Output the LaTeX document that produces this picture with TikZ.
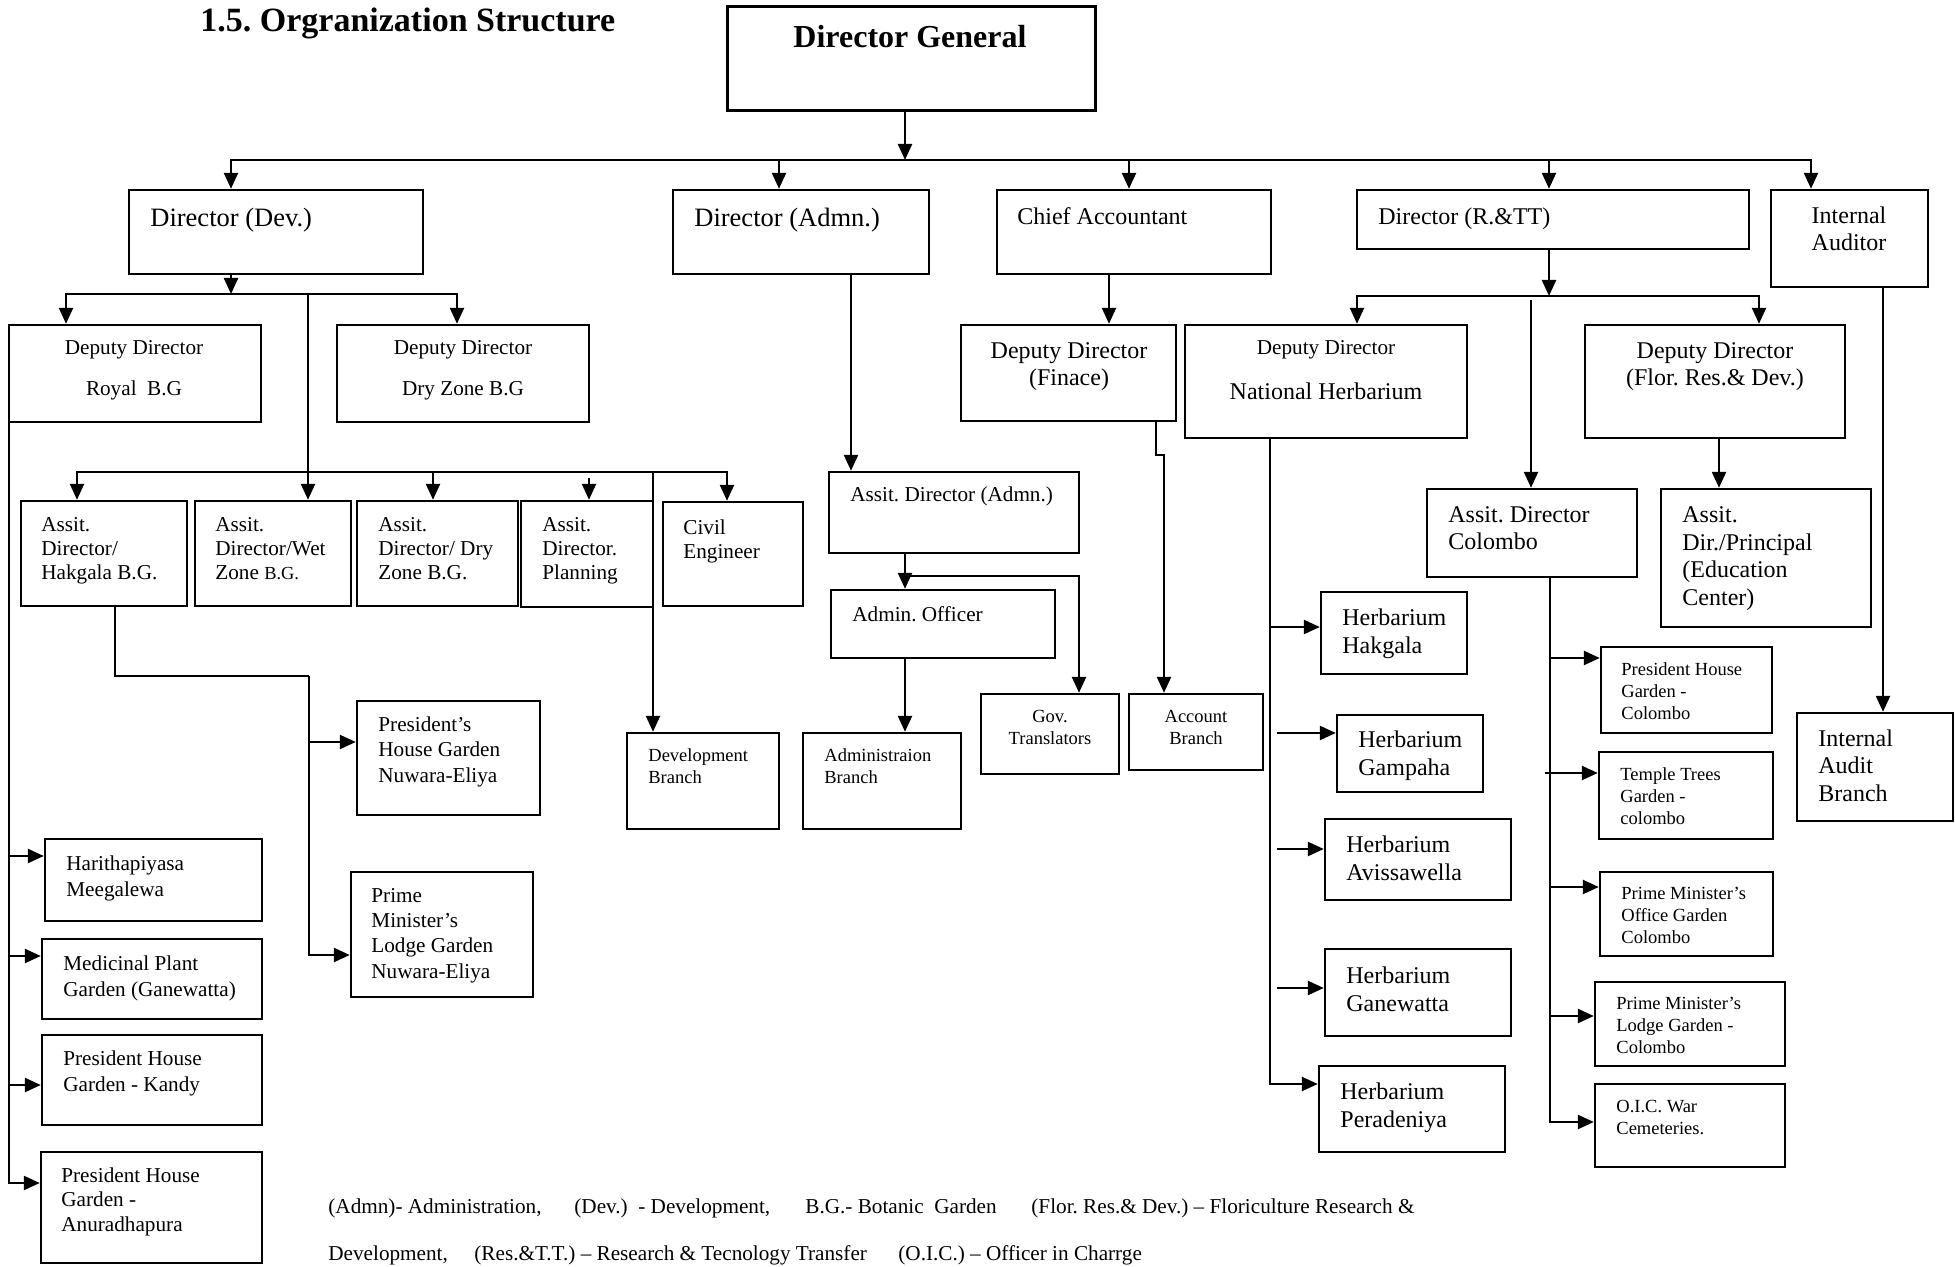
\documentclass[tikz,border=0pt]{standalone}
\usepackage{fontspec}
\setmainfont{Liberation Serif}
\usetikzlibrary{arrows.meta,fit}
\frenchspacing
\newcommand\fTi{\fontsize{17}{20}\selectfont\bfseries}
\newcommand\fDG{\fontsize{16}{19}\selectfont\bfseries}
\newcommand\fB{\fontsize{13.25}{16}\selectfont}
\newcommand\fM{\fontsize{12}{13.75}\selectfont}
\newcommand\fN{\fontsize{10.6}{12.25}\selectfont}
\newcommand\fNw{\fontsize{10.6}{12.6}\selectfont}
\newcommand\fS{\fontsize{9.25}{10.9}\selectfont}
\newcommand\bx[5]{\node[box,fit={(#2,#3) (#4,#5)}] (#1) {};}
\begin{document}
\begin{tikzpicture}[x=0.5pt,y=-0.5pt,
  box/.style={draw,line width=1.2pt,inner sep=0pt},
  ln/.style={line width=1.2pt},
  arr/.style={line width=1.2pt,-{Triangle[length=8pt,width=7pt]}},
  tl/.style={inner sep=0pt,anchor=base west,align=left},
  tc/.style={inner sep=0pt,anchor=base,align=center}]
\frenchspacing
\fill[white] (0,0) rectangle (1955,1267);
\useasboundingbox (0,0) rectangle (1955,1267);

% ---------- boxes ----------
\node[draw,line width=1.5pt,inner sep=0pt,fit={(727,7) (1095,111)}] (dg) {};
\bx{ddev}{129}{190}{423}{274}
\bx{dadm}{673}{190}{929}{274}
\bx{ca}{997}{190}{1271}{274}
\bx{drtt}{1357}{190}{1749}{249}
\bx{ia}{1771}{190}{1928}{287}
\bx{ddr}{9}{325}{261}{422}
\bx{ddz}{337}{325}{589}{422}
\bx{ddf}{961}{325}{1176}{421}
\bx{ddnh}{1185}{325}{1467}{438}
\bx{ddfl}{1585}{325}{1845}{438}
\bx{ahk}{21}{501}{187}{606}
\bx{awz}{195}{501}{351}{606}
\bx{adz}{357}{501}{518}{606}
\bx{apl}{521}{501}{653}{607}
\bx{ce}{663}{502}{803}{606}
\bx{aad}{829}{472}{1079}{553}
\bx{ao}{831}{590}{1055}{658}
\bx{dvb}{627}{733}{779}{829}
\bx{adb}{803}{733}{961}{829}
\bx{gt}{981}{694}{1119}{774}
\bx{ab}{1129}{694}{1263}{770}
\bx{adc}{1427}{489}{1637}{577}
\bx{adp}{1661}{489}{1871}{627}
\bx{hha}{1321}{592}{1467}{674}
\bx{hga}{1337}{715}{1483}{792}
\bx{hav}{1325}{819}{1511}{900}
\bx{hgn}{1325}{949}{1511}{1036}
\bx{hpe}{1319}{1066}{1505}{1152}
\bx{phc}{1601}{647}{1772}{733}
\bx{ttg}{1599}{752}{1773}{839}
\bx{pmo}{1600}{872}{1773}{956}
\bx{pml}{1595}{982}{1785}{1066}
\bx{oic}{1595}{1084}{1785}{1167}
\bx{iab}{1797}{713}{1953}{821}
\bx{phn}{357}{701}{540}{815}
\bx{pmn}{351}{872}{533}{997}
\bx{har}{45}{839}{262}{921}
\bx{mpg}{42}{939}{262}{1019}
\bx{phk}{42}{1035}{262}{1125}
\bx{pha}{41}{1152}{262}{1263}

% ---------- connectors ----------
\coordinate (b1) at (905,160);
\draw[arr] (905,0 |- dg.south) -- (b1);
\draw[arr] (b1) -| (231,0 |- ddev.north);
\draw[arr] (b1) -| (1811,0 |- ia.north);
\draw[arr] (779,0 |- b1) -- (779,0 |- dadm.north);
\draw[arr] (1129,0 |- b1) -- (1129,0 |- ca.north);
\draw[arr] (1549,0 |- b1) -- (1549,0 |- drtt.north);

\coordinate (b2) at (231,294);
\draw[arr] (231,0 |- ddev.south) -- (b2);
\draw[arr] (b2) -| (66,0 |- ddr.north);
\draw[arr] (b2) -| (457,0 |- ddz.north);
\draw[arr] (308,0 |- b2) -- (308,0 |- awz.north);
\coordinate (b3) at (308,472);
\draw[arr] (b3) -| (77,0 |- ahk.north);
\draw[arr] (b3) -| (727,0 |- ce.north);
\draw[arr] (433,0 |- b3) -- (433,0 |- adz.north);
\coordinate (pl) at (589,478);
\draw[arr] (pl) -- (589,0 |- apl.north);
\draw[arr] (653,0 |- b3) -- (653,0 |- dvb.north);

\draw[arr] (851,0 |- dadm.south) -- (851,0 |- aad.north);
\draw[arr] (905,0 |- aad.south) -- (905,0 |- ao.north);
\coordinate (b5) at (905,576);
\draw[arr] (b5) -| (1079,0 |- gt.north);
\draw[arr] (905,0 |- ao.south) -- (905,0 |- adb.north);

\draw[arr] (1109,0 |- ca.south) -- (1109,0 |- ddf.north);
\draw[arr] (1156,0 |- ddf.south) -- (1156,455) -- (1164,455) -- (1164,0 |- ab.north);

\coordinate (b4) at (1549,296);
\draw[arr] (1549,0 |- drtt.south) -- (b4);
\draw[arr] (b4) -| (1357,0 |- ddnh.north);
\draw[arr] (b4) -| (1759,0 |- ddfl.north);
\coordinate (b6) at (1531,300);
\draw[arr] (b6) -- (1531,0 |- adc.north);
\draw[arr] (1719,0 |- ddfl.south) -- (1719,0 |- adp.north);
\draw[arr] (1883,0 |- ia.south) -- (1883,0 |- iab.north);

\draw[arr] (1270,0 |- ddnh.south) |- (hpe.west |- 0,1084);
\draw[arr] (1270,627) -- (hha.west |- 0,627);
\draw[arr] (1277,733) -- (hga.west |- 0,733);
\draw[arr] (1277,849) -- (hav.west |- 0,849);
\draw[arr] (1277,988) -- (hgn.west |- 0,988);

\draw[arr] (1550,0 |- adc.south) |- (oic.west |- 0,1122);
\draw[arr] (1550,658) -- (phc.west |- 0,658);
\draw[arr] (1545,773) -- (ttg.west |- 0,773);
\draw[arr] (1550,887) -- (pmo.west |- 0,887);
\draw[arr] (1550,1016) -- (pml.west |- 0,1016);

\draw[arr] (9,0 |- ddr.south) |- (pha.west |- 0,1183);
\draw[arr] (9,856) -- (har.west |- 0,856);
\draw[arr] (9,956) -- (mpg.west |- 0,956);
\draw[arr] (9,1085) -- (phk.west |- 0,1085);

\draw[ln] (115,0 |- ahk.south) -- (115,676) -- (309,676);
\draw[arr] (309,676) |- (pmn.west |- 0,955);
\draw[arr] (309,742) -- (phn.west |- 0,742);

% ---------- texts (anchored at the baseline of the last line) ----------
\node[tl,font=\fTi] (title) at (200,32) {1.5. Orgranization Structure};
\node[tc,font=\fDG] (tdg) at (910,48) {Director General};
\node[tl,font=\fB] (tddev) at (150,227) {Director (Dev.)};
\node[tl,font=\fB] (tdadm) at (694,227) {Director (Admn.)};
\node[tl,font=\fM] (tca) at (1017,225) {Chief Accountant};
\node[tl,font=\fM] (tdrtt) at (1378,225) {Director (R.\&TT)};
\node[tc,font=\fM] (tia) at (1849,251) {Internal\\Auditor};
\node[tc,font=\fN] (tddr) at (134,396) {Deputy Director\\[8.3pt]Royal\ \ B.G};
\node[tc,font=\fN] (tddz) at (463,396) {Deputy Director\\[8.3pt]Dry Zone B.G};
\node[tc,font=\fM] (tddf) at (1069,386) {Deputy Director\\(Finace)};
\node[tc,font=\fN] (tddnh1) at (1326,355) {Deputy Director};
\node[tc,font=\fM] (tddnh2) at (1326,400) {National Herbarium};
\node[tc,font=\fM] (tddfl) at (1715,386) {Deputy Director\\(Flor. Res.\& Dev.)};
\node[tl,font=\fN] (tahk) at (41,580) {Assit.\\Director/\\Hakgala B.G.};
\node[tl,font=\fN] (tawz) at (215,580) {Assit.\\Director/Wet\\Zone {\fontsize{9.2}{12}\selectfont B.G.}};
\node[tl,font=\fN] (tadz) at (378,580) {Assit.\\Director/ Dry\\Zone B.G.};
\node[tl,font=\fN] (tapl) at (542,580) {Assit.\\Director.\\Planning};
\node[tl,font=\fN] (tce) at (683,559) {Civil\\Engineer};
\node[tl,font=\fN] (taad) at (850,502) {Assit. Director (Admn.)};
\node[tl,font=\fN] (tao) at (852,621) {Admin. Officer};
\node[tl,font=\fS] (tdvb) at (648,783) {Development\\Branch};
\node[tl,font=\fS] (tadb) at (824,783) {Administraion\\Branch};
\node[tc,font=\fS] (tgt) at (1050,744) {Gov.\\Translators};
\node[tc,font=\fS] (tab) at (1196,744) {Account\\Branch};
\node[tl,font=\fNw] (tphn) at (378,782) {President’s\\House Garden\\Nuwara-Eliya};
\node[tl,font=\fNw] (tpmn) at (371,978) {Prime\\Minister’s\\Lodge Garden\\Nuwara-Eliya};
\node[tl,font=\fNw] (thar) at (66,896) {Harithapiyasa\\Meegalewa};
\node[tl,font=\fNw] (tmpg) at (63,996) {Medicinal Plant\\Garden (Ganewatta)};
\node[tl,font=\fNw] (tphk) at (63,1091) {President House\\Garden - Kandy};
\node[tl,font=\fN] (tpha) at (61,1231) {President House\\Garden -\\Anuradhapura};
\node[tl,font=\fM] (tadc) at (1448,550) {Assit. Director\\Colombo};
\node[tl,font=\fM] (tadp) at (1682,605) {Assit.\\Dir./Principal\\(Education\\Center)};
\node[tl,font=\fM] (thha) at (1342,653) {Herbarium\\Hakgala};
\node[tl,font=\fM] (thga) at (1358,775) {Herbarium\\Gampaha};
\node[tl,font=\fM] (thav) at (1346,880) {Herbarium\\Avissawella};
\node[tl,font=\fM] (thgn) at (1346,1011) {Herbarium\\Ganewatta};
\node[tl,font=\fM] (thpe) at (1340,1127) {Herbarium\\Peradeniya};
\node[tl,font=\fS] (tphc) at (1621,719) {President House\\Garden -\\Colombo};
\node[tl,font=\fS] (tttg) at (1620,824) {Temple Trees\\Garden -\\colombo};
\node[tl,font=\fS] (tpmo) at (1621,943) {Prime Minister’s\\Office Garden\\Colombo};
\node[tl,font=\fS] (tpml) at (1616,1053) {Prime Minister’s\\Lodge Garden -\\Colombo};
\node[tl,font=\fS] (toic) at (1616,1134) {O.I.C. War\\Cemeteries.};
\node[tl,font=\fM] (tiab) at (1818,801) {Internal\\Audit\\Branch};

\node[tl,font=\fN] (fn1) at (328,1213) {(Admn)- Administration,};
\node[tl,font=\fN] (fn2) at (574,1213) {(Dev.)\ \ - Development,};
\node[tl,font=\fN] (fn3) at (805,1213) {B.G.- Botanic\ \ Garden};
\node[tl,font=\fN] (fn4) at (1031,1213) {(Flor. Res.\& Dev.) -- Floriculture Research \&};
\node[tl,font=\fN] (fn5) at (328,1260) {Development,};
\node[tl,font=\fN] (fn6) at (474,1260) {(Res.\&T.T.) -- Research \& Tecnology Transfer};
\node[tl,font=\fN] (fn7) at (898,1260) {(O.I.C.) -- Officer in Charrge};
\end{tikzpicture}
\end{document}
